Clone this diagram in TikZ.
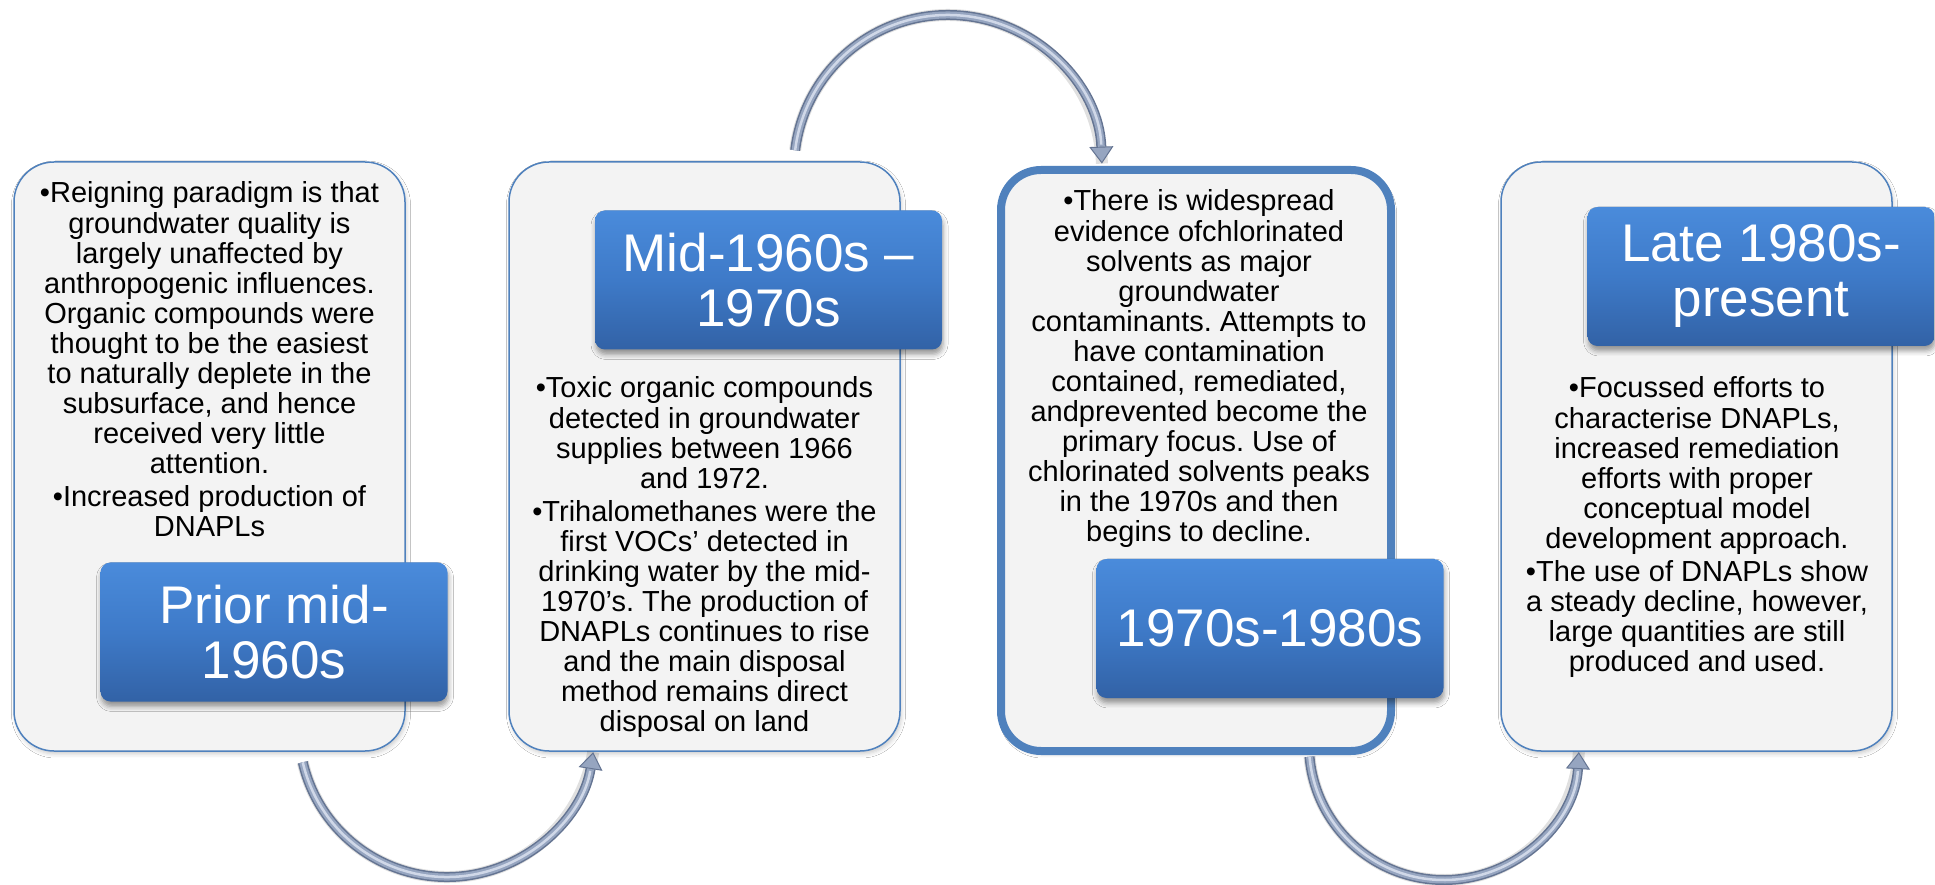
\documentclass[tikz,border=0pt]{standalone}
\usepackage{fontspec}
\setmainfont{Liberation Sans}
\usetikzlibrary{arrows.meta,shadows.blur,calc}
\frenchspacing

\definecolor{panelfill}{RGB}{243,243,243}
\definecolor{panelline}{RGB}{79,129,189}
\definecolor{tagtop}{RGB}{74,139,219}
\definecolor{tagmid}{RGB}{62,122,200}
\definecolor{tagbot}{RGB}{50,98,166}
\definecolor{arcdark}{RGB}{100,116,146}
\definecolor{arcmid}{RGB}{150,165,192}
\definecolor{arclight}{RGB}{208,216,232}

\tikzset{
  panel/.style={draw=panelline, line width=1.5pt, fill=panelfill,
    rounded corners=40pt, minimum width=391pt, minimum height=589pt, inner sep=0pt,
    blur shadow={shadow xshift=1.5pt, shadow yshift=-3pt, shadow opacity=20, shadow blur radius=4pt}},
  thickpanel/.style={panel, line width=8pt, minimum width=390pt, minimum height=581pt},
  tag/.style={rounded corners=10pt, top color=tagtop, bottom color=tagbot, middle color=tagmid,
    minimum width=347pt, minimum height=139pt, inner sep=0pt, text=white, align=center,
    font=\fontsize{53}{55}\selectfont,
    blur shadow={shadow xshift=1pt, shadow yshift=-5pt, shadow opacity=40, shadow blur radius=5pt}},
  body/.style={anchor=north, inner sep=0pt, align=center, text=black,
    font=\fontsize{29}{30}\selectfont\frenchspacing}
}

% curved tube connector: start point, start angle, end angle, radius
\newcommand\bentlink[4]{%
  \draw[line width=12pt, black, opacity=0.12, shift={(1.5,-2.5)}]
    (#1) arc[start angle=#2, end angle=#3, radius=#4];
  \draw[line width=10pt, arcdark, -{Triangle[width=24pt,length=17pt,fill=arcmid,line width=1pt]}]
    (#1) arc[start angle=#2, end angle=#3, radius=#4];
  \draw[line width=7pt, arcmid, shorten >=17pt]
    (#1) arc[start angle=#2, end angle=#3, radius=#4];
  \draw[line width=2.5pt, arclight, shorten >=19pt]
    (#1) arc[start angle=#2, end angle=#3, radius=#4];
}

\begin{document}
\begin{tikzpicture}[x=1pt,y=1pt]
\useasboundingbox (0,0) rectangle (1935,884);
\fill[white] (0,0) rectangle (1935,884);

% panels
\node[panel] (p1) at (209.5,427.5) {};
\node[panel] (p2) at (704.5,427.5) {};
\node[thickpanel] (p3) at (1196,423.5) {};
\node[panel] (p4) at (1696.5,427.5) {};

% panel texts
\node[body] (t1) at (209.5,703) {\strut•Reigning paradigm is that\\
groundwater quality is\\
largely unaffected by\\
anthropogenic influences.\\
Organic compounds were\\
thought to be the easiest\\
to naturally deplete in the\\
subsurface, and hence\\
received very little\\
attention.\\[3pt]
•Increased production of\\
DNAPLs};

\node[body] (t2) at (704.5,508) {\strut•Toxic organic compounds\\
detected in groundwater\\
supplies between 1966\\
and 1972.\\[3pt]
•Trihalomethanes were the\\
first VOCs’ detected in\\
drinking water by the mid-\\
1970’s. The production of\\
DNAPLs continues to rise\\
and the main disposal\\
method remains direct\\
disposal on land};

\node[body] (t3) at (1199,695) {\strut•There is widespread\\
evidence ofchlorinated\\
solvents as major\\
groundwater\\
contaminants. Attempts to\\
have contamination\\
contained, remediated,\\
andprevented become the\\
primary focus. Use of\\
chlorinated solvents peaks\\
in the 1970s and then\\
begins to decline.};

\node[body] (t4) at (1697,508) {\strut•Focussed efforts to\\
characterise DNAPLs,\\
increased remediation\\
efforts with proper\\
conceptual model\\
development approach.\\[3pt]
•The use of DNAPLs show\\
a steady decline, however,\\
large quantities are still\\
produced and used.};

% period tags
\node[tag] (g1) at (274,252) {Prior mid-\\1960s};
\node[tag] (g2) at (768.5,604) {Mid-1960s –\\1970s};
\node[tag] (g3) at (1270,255.5) {1970s-1980s};
\node[tag] (g4) at (1761,607.5) {Late 1980s-\\present};

% connectors between panels
\coordinate (hub1) at (447,155);
\coordinate (hub2) at (948,715);
\coordinate (hub3) at (1444,139);
\coordinate (link1) at ($(hub1)+(193:148)$);
\coordinate (link2) at ($(hub2)+(173:154)$);
\coordinate (link3) at ($(hub3)+(185:135)$);
\bentlink{link1}{193}{351}{148}
\bentlink{link2}{173}{2}{154}
\bentlink{link3}{185}{357}{135}
\end{tikzpicture}
\end{document}
